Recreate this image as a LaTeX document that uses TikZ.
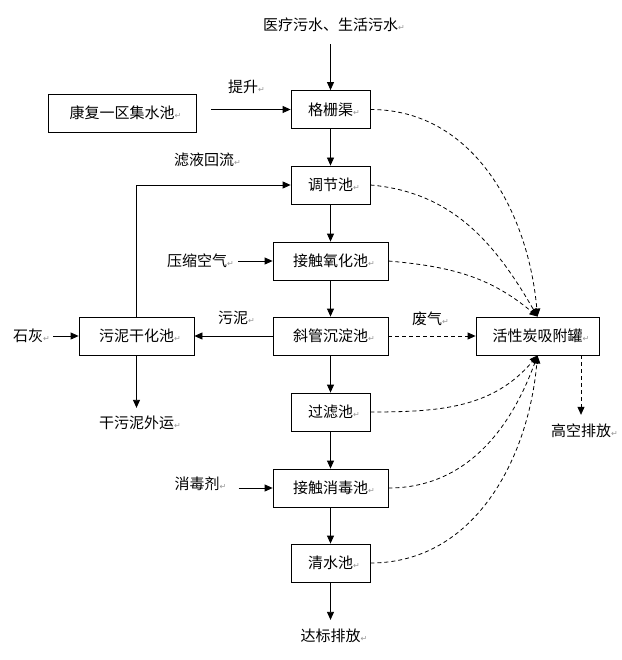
\documentclass[tikz,border=0pt]{standalone}
\usepackage{fontspec}
\usepackage{xcolor}
\usetikzlibrary{arrows.meta}
\setmainfont{Noto Sans CJK SC}
\newfontfamily\symfont{DejaVu Sans}
\definecolor{markGray}{RGB}{150,150,150}
\newcommand{\pmark}{\rlap{\symfont\fontsize{8}{8}\selectfont\textcolor{markGray}{↵}}}

\begin{document}
\begin{tikzpicture}[x=1pt, y=-1pt, font=\fontsize{15}{17}\selectfont]
            % Styles
            \tikzstyle{tank} = [rectangle, draw, line width=0.8pt, minimum height=38pt, inner sep=0pt]
            \tikzstyle{tag} = [inner sep=2pt]
            \tikzstyle{flow} = [->, >={Triangle[length=8pt,width=7pt]}, line width=0.8pt]
            \tikzstyle{gas} = [flow, dash pattern=on 4pt off 3pt]

            \useasboundingbox (0,0) rectangle (621,660);

            % Nodes
            \node[tank, minimum width=79pt] (gs) at (330.5,109.5) {格栅渠\pmark};
            \node[tank, minimum width=148pt] (kf) at (122,113) {康复一区集水池\pmark};
            \node[tank, minimum width=79pt] (tj) at (330.5,185) {调节池\pmark};
            \node[tank, minimum width=115pt] (yh) at (330.5,261) {接触氧化池\pmark};
            \node[tank, minimum width=115pt] (cd) at (330.5,336) {斜管沉淀池\pmark};
            \node[tank, minimum width=115pt] (gh) at (136.5,336) {污泥干化池\pmark};
            \node[tank, minimum width=123pt] (hx) at (537.5,336) {活性炭吸附罐\pmark};
            \node[tank, minimum width=79pt] (gl) at (330.5,412) {过滤池\pmark};
            \node[tank, minimum width=115pt] (xd) at (330.5,488) {接触消毒池\pmark};
            \node[tank, minimum width=79pt] (qs) at (330.5,563) {清水池\pmark};

            % Labels
            \node[tag] (src) at (330.5,25) {医疗污水、生活污水\pmark};
            \node[tag] (ts) at (243,87) {提升\pmark};
            \node[tag] (lh) at (204,160) {滤液回流\pmark};
            \node[tag] (ys) at (197,261) {压缩空气\pmark};
            \node[tag] (wn) at (233,318) {污泥\pmark};
            \node[tag] (sh) at (28,336) {石灰\pmark};
            \node[tag] (fq) at (427,319) {废气\pmark};
            \node[tag] (wy) at (136.5,423) {干污泥外运\pmark};
            \node[tag] (gk) at (581,431) {高空排放\pmark};
            \node[tag] (xdj) at (197,484) {消毒剂\pmark};
            \node[tag] (db) at (330.5,636) {达标排放\pmark};

            % Arrows
            \draw[flow, shorten <=10pt] (src) -- (gs);
            \draw[flow, shorten <=15pt] (kf.east |- gs) -- (gs);
            \draw[flow] (gs) -- (tj);
            \draw[flow] (tj) -- (yh);
            \draw[flow] (yh) -- (cd);
            \draw[flow] (cd) -- (gl);
            \draw[flow] (gl) -- (xd);
            \draw[flow] (xd) -- (qs);
            \draw[flow, shorten >=7pt] (qs) -- (db);
            \draw[flow] (cd) -- (gh);
            \draw[flow] (gh.north) |- (tj.west);
            \draw[flow, shorten >=6pt] (gh) -- (wy);
            \draw[flow, shorten <=8pt] (sh) -- (gh);
            \draw[flow, shorten <=9pt] (ys) -- (yh);
            \draw[flow, shorten <=17pt] (xdj.east |- xd) -- (xd);

            % Waste gas
            \draw[gas] (cd) -- (hx);
            \draw[gas, shorten >=7pt] (hx.south -| gk) -- (gk);
            \draw[gas] (gs.east) to[out=0, in=95] (hx.north);
            \draw[gas] (tj.east) to[out=-5, in=120] (hx.north);
            \draw[gas] (yh.east) to[out=-5, in=140] (hx.north);
            \draw[gas] (gl.east) to[out=0, in=-130] (hx.south);
            \draw[gas] (xd.east) to[out=0, in=-110] (hx.south);
            \draw[gas] (qs.east) to[out=0, in=-95] (hx.south);
        \end{tikzpicture}
\end{document}
